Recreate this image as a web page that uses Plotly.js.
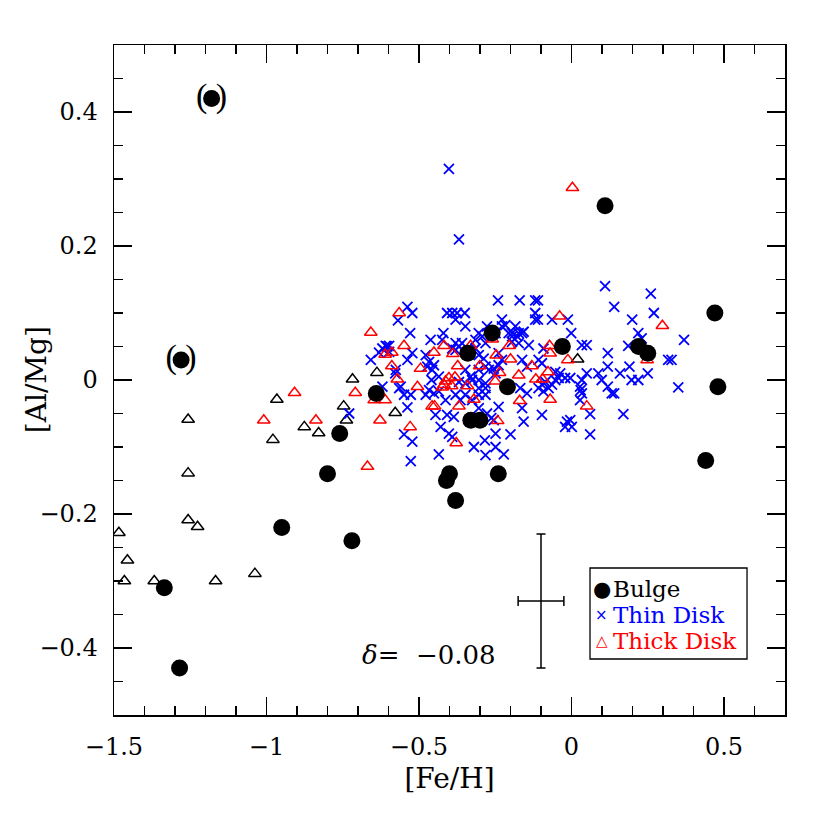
<!DOCTYPE html>
<html>
<head>
<meta charset="utf-8">
<script src="https://cdn.plot.ly/plotly-3.0.1.min.js"></script>
<style>html,body{margin:0;padding:0;background:#fff}#chart{width:830px;height:830px}</style>
</head>
<body>
<div id="chart"></div>
<script>
// ---------- DATA ----------
// Bulge stars (filled black circles); uncertain ones get parentheses
const bulgeFeH  = [-1.18, -1.28, -1.335, -1.285, -0.95, -0.80, -0.76, -0.72, -0.64, -0.34, -0.26, -0.33, -0.30, -0.21, -0.40, -0.41, -0.38, -0.24, -0.03, 0.11, 0.22, 0.25, 0.47, 0.48, 0.44];
const bulgeAlMg = [0.42, 0.03, -0.31, -0.43, -0.22, -0.14, -0.08, -0.24, -0.02, 0.04, 0.07, -0.06, -0.06, -0.01, -0.14, -0.15, -0.18, -0.14, 0.05, 0.26, 0.05, 0.04, 0.10, -0.01, -0.12];
const bulgeUncertain = [true, true, false, false, false, false, false, false, false, false, false, false, false, false, false, false, false, false, false, false, false, false, false, false, false];

// Thin disk stars (blue crosses)
const thinFeH = [
 -0.402,-0.369,-0.241,-0.17,-0.119,-0.11,-0.538,-0.522,-0.569,-0.408,-0.391,-0.375,-0.35,-0.38,
 -0.119,-0.119,-0.11,-0.064,-0.012,-0.228,-0.529,-0.42,-0.462,-0.348,-0.304,-0.277,
 -0.217,-0.184,-0.206,-0.195,-0.173,-0.157,-0.001,-0.14,0.034,0.05,
 0.11,0.14,0.26,0.27,0.199,0.219,0.23,0.369,0.186,
 0.119,0.119,0.317,0.328,0.19,0.05,0.088,0.159,0.25,0.034,0.099,0.197,0.219,0.028,0.119,0.132,0.14,0.35,0.034,0.028,0.03,0.061,0.17,-0.004,0.001,0.061,
 -0.021,-0.004,-0.042,-0.168,-0.146,-0.108,-0.092,-0.075,-0.064,-0.097,-0.086,-0.053,
 -0.239,-0.162,-0.097,-0.263,-0.255,-0.157,-0.015,-0.021,-0.249,-0.2,-0.249,-0.222,
 -0.565,-0.549,-0.527,-0.538,-0.459,-0.467,-0.451,-0.478,-0.435,-0.413,-0.38,-0.364,-0.348,-0.326,-0.304,-0.282,-0.282,-0.304,-0.304,
 -0.446,-0.386,-0.408,-0.429,-0.402,-0.391,-0.549,-0.522,-0.32,-0.284,-0.435,-0.527,-0.282,
 -0.369,-0.348,-0.326,-0.304,-0.282,
 -0.424,-0.38,-0.369,-0.359,-0.38,-0.391,-0.62,-0.604,-0.598,-0.522,-0.538,-0.478,-0.467,-0.451,-0.473,
 -0.315,-0.293,-0.282,-0.315,-0.304,-0.288,-0.435,-0.457,-0.576,-0.348,-0.331,-0.304,-0.282,
 -0.195,-0.178,-0.162,-0.195,-0.173,-0.228,-0.249,-0.092,-0.239,-0.228,-0.239,-0.255,-0.162,-0.146,-0.108,-0.097,-0.053,-0.037,-0.271,-0.249,
 -0.62,-0.729,-0.578,-0.56,-0.658,-0.631,-0.609,-0.598,-0.277
];
const thinAlMg = [
 0.315,0.21,0.119,0.119,0.119,0.119,0.109,0.10,0.089,0.10,0.10,0.10,0.10,0.09,
 0.10,0.09,0.09,0.09,0.09,0.09,0.07,0.07,0.06,0.08,0.07,0.08,
 0.082,0.08,0.07,0.07,0.07,0.072,0.07,0.052,0.052,0.052,
 0.14,0.109,0.129,0.10,0.09,0.07,0.062,0.06,0.051,
 0.04,0.02,0.03,0.03,0.02,0.01,0.01,0.01,0.01,0.0,0.0,0.0,0.0,-0.01,-0.01,-0.02,-0.02,-0.011,-0.02,-0.03,-0.015,-0.051,-0.051,-0.06,-0.07,-0.081,
 0.003,0.003,0.003,-0.012,-0.02,-0.012,-0.017,-0.012,-0.007,-0.007,-0.003,0.0,
 -0.04,-0.042,-0.052,-0.057,-0.06,-0.062,-0.062,-0.07,-0.08,-0.081,-0.10,-0.111,
 -0.012,-0.022,-0.022,-0.041,0.0,-0.015,-0.02,-0.022,-0.017,-0.03,-0.022,-0.03,-0.022,-0.03,-0.012,-0.012,-0.022,-0.022,-0.042,
 -0.052,-0.055,-0.052,-0.07,-0.08,-0.085,-0.081,-0.092,-0.10,-0.09,-0.111,-0.121,-0.112,
 -0.003,-0.005,0.0,0.0,-0.005,
 0.06,0.055,0.05,0.055,0.045,0.047,0.047,0.05,0.042,0.04,0.03,0.037,0.027,0.022,0.02,
 0.06,0.065,0.055,0.047,0.037,0.032,0.005,0.015,0.015,0.015,0.005,0.015,0.02,
 0.065,0.065,0.07,0.057,0.055,0.08,0.07,0.047,0.04,0.03,0.022,0.017,0.03,0.02,0.03,0.025,0.012,0.01,0.015,0.01,
 -0.01,-0.05,0.01,-0.01,0.03,0.041,0.051,0.051,-0.05
];

// Thick disk stars (red open triangles)
const thickFeH = [
 -0.908,-1.009,-0.838,-0.709,-0.669,-0.628,-0.647,-0.611,-0.571,-0.529,-0.505,-0.457,-0.449,-0.418,
 -0.565,-0.658,-0.549,-0.611,-0.589,-0.589,-0.495,-0.451,-0.418,
 0.003,-0.039,
 -0.389,-0.331,-0.26,-0.247,-0.204,-0.2,-0.373,-0.301,-0.236,-0.173,-0.13,-0.077,-0.072,-0.07,-0.012,
 -0.402,-0.413,-0.382,-0.393,-0.424,-0.341,-0.25,-0.117,-0.095,
 -0.369,-0.32,-0.17,-0.07,0.05,-0.242,-0.378,
 0.298,0.248
];
const thickAlMg = [
 -0.019,-0.06,-0.06,-0.019,-0.129,-0.06,-0.03,-0.03,0.001,-0.07,-0.01,-0.039,-0.039,-0.007,
 0.10,0.071,0.051,0.038,0.041,0.021,0.017,0.041,0.051,
 0.287,0.095,
 0.039,0.051,0.061,0.037,0.051,0.031,0.021,0.021,0.011,0.007,0.021,0.012,0.051,0.04,0.03,
 0.003,-0.002,0.004,-0.009,-0.011,-0.009,-0.002,0.001,0.001,
 -0.039,-0.029,-0.031,-0.029,-0.039,-0.061,-0.094,
 0.081,0.03
];

// Metal-poor disk stars (black open triangles)
const mpFeH  = [-1.257,-1.257,-1.257,-1.226,-1.484,-1.456,-1.466,-1.368,-1.167,-1.038,-0.979,-0.966,-0.876,-0.829,-0.747,-0.738,-0.718,-0.638,-0.578,0.02];
const mpAlMg = [-0.059,-0.139,-0.209,-0.219,-0.228,-0.269,-0.30,-0.30,-0.30,-0.289,-0.089,-0.029,-0.07,-0.079,-0.039,-0.06,0.001,0.011,-0.049,0.031];

// Typical error bar
const errFeH = [-0.10];
const errAlMg = [-0.33];
const errXsize = [0.075];
const errYsize = [0.10];

// Texts
const deltaText = '<i>δ</i>=\u00a0\u00a0\u22120.08';
const xTitle = '[Fe/H]';
const yTitle = '[Al/Mg]';
const legendLabels  = ['Bulge', 'Thin Disk', 'Thick Disk'];
const legendSymbols = ['\u25CF', '\u00D7', '\u25B3'];
const legendColors  = ['black', '#0000ff', '#ff0000'];

// ---------- TRACES ----------
const FONT = 'DejaVu Serif';
const uncFeH = bulgeFeH.filter((v,i)=>bulgeUncertain[i]);
const uncAlMg = bulgeAlMg.filter((v,i)=>bulgeUncertain[i]);

const traces = [
 {x: mpFeH, y: mpAlMg, type:'scatter', mode:'markers', name:'Metal-poor disk',
  marker:{symbol:'triangle-up-open', size:11, color:'black', line:{width:1.5, color:'black'}}},
 {x: thinFeH, y: thinAlMg, type:'scatter', mode:'markers', name:'Thin Disk',
  marker:{symbol:'x-thin-open', size:10, color:'#0000ff', line:{width:1.8, color:'#0000ff'}}},
 {x: thickFeH, y: thickAlMg, type:'scatter', mode:'markers', name:'Thick Disk',
  marker:{symbol:'triangle-up-open', size:11, color:'#ff0000', line:{width:1.5, color:'#ff0000'}}},
 {x: bulgeFeH, y: bulgeAlMg, type:'scatter', mode:'markers', name:'Bulge',
  marker:{symbol:'circle', size:17, color:'black'}},
 {x: uncFeH, y: uncAlMg, type:'scatter', mode:'text', name:'uncertain', hoverinfo:'skip',
  text: uncFeH.map(()=> '(\u00a0)'), textposition:'middle center',
  textfont:{family:'Liberation Serif', size:34, color:'black'}},
 {x: errFeH, y: errAlMg, type:'scatter', mode:'markers', name:'typical error', hoverinfo:'skip',
  marker:{size:1, opacity:0},
  error_x:{type:'data', array:errXsize, visible:true, color:'black', thickness:1.5, width:5},
  error_y:{type:'data', array:errYsize, visible:true, color:'black', thickness:1.5, width:4.5}}
];

const axisCommon = {
 showline:true, linecolor:'black', linewidth:1.5, mirror:'allticks',
 ticks:'inside', ticklen:18, tickwidth:1.3, tickcolor:'black',
 showgrid:false, zeroline:false,
 tickfont:{family:FONT, size:24, color:'black'},
 ticklabelstandoff: 10
};

// legend drawn as a box + text rows (paper coords)
const legX0 = 0.7094, legX1 = 0.9434, legY0 = 0.0836, legY1 = 0.2194;
const rowY = [0.188, 0.149, 0.110];
const annotations = [
 {xref:'paper', yref:'paper', x:0.469, y:0.0896, text:deltaText, showarrow:false,
  xanchor:'center', yanchor:'middle', font:{family:FONT, size:26, color:'black'}},
 {xref:'paper', yref:'paper', x:-0.116, y:0.5, text:yTitle, showarrow:false, textangle:-90,
  xanchor:'center', yanchor:'middle', font:{family:FONT, size:28, color:'black'}}
];
legendLabels.forEach((lab,i)=>{
  annotations.push({xref:'paper', yref:'paper', x:0.727, y:rowY[i], text:legendSymbols[i], showarrow:false,
    xanchor:'center', yanchor:'middle',
    font:{family:'DejaVu Sans', size: i===0 ? 21 : 15, color:legendColors[i]}});
  annotations.push({xref:'paper', yref:'paper', x:0.740, y:rowY[i], text:lab, showarrow:false,
    xanchor:'left', yanchor:'middle', font:{family:FONT, size:23, color:legendColors[i]}});
});

const layout = {
 width:830, height:830,
 margin:{l:114, r:45, t:45, b:115},
 paper_bgcolor:'white', plot_bgcolor:'white',
 showlegend:false,
 xaxis: Object.assign({}, axisCommon, {
   range:[-1.5, 0.7], tick0:-1.5, dtick:0.5,
   minor:{dtick:0.1, ticklen:9, tickwidth:1.3, ticks:'inside', tickcolor:'black'},
   title:{text:xTitle, font:{family:FONT, size:28, color:'black'}, standoff:8}
 }),
 yaxis: Object.assign({}, axisCommon, {
   range:[-0.5, 0.5], tick0:0, dtick:0.2,
   minor:{dtick:0.05, ticklen:9, tickwidth:1.3, ticks:'inside', tickcolor:'black'}
 }),
 shapes:[
  {type:'rect', xref:'paper', yref:'paper', x0:legX0, x1:legX1, y0:legY0, y1:legY1,
   line:{color:'black', width:1.3}, fillcolor:'white', layer:'above'}
 ],
 annotations: annotations
};

Plotly.newPlot('chart', traces, layout, {staticPlot:true, displayModeBar:false});
</script>
</body>
</html>
